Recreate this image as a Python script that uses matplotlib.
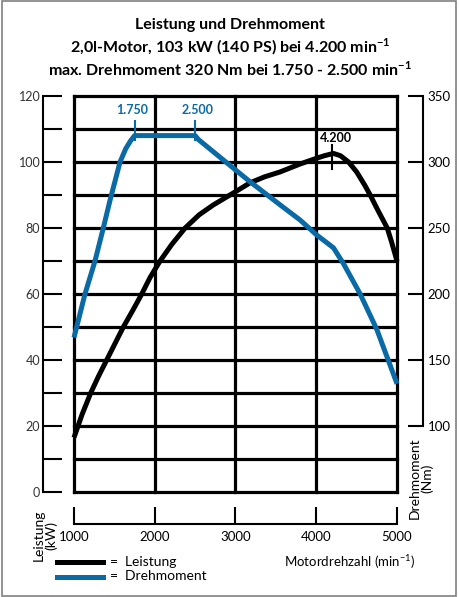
import numpy as np
import matplotlib.pyplot as plt
from matplotlib.lines import Line2D
from matplotlib.patches import Rectangle

plt.rcParams['font.family'] = ['Lato', 'DejaVu Sans']
plt.rcParams['mathtext.fontset'] = 'custom'
plt.rcParams['mathtext.rm'] = 'Lato'
plt.rcParams['mathtext.bf'] = 'Lato:bold'

# Leistung (kW) over Motordrehzahl
p_rpm = [1000, 1100, 1207, 1302, 1405, 1508, 1611, 1727, 1839, 1942, 2066, 2210, 2376, 2550, 2726,
         3000, 3181, 3360, 3553, 3800, 4000, 4100, 4213, 4300, 4400, 4500, 4600, 4668, 4750,
         4879, 4930, 5000]
p_kw = [16.5, 23.5, 30, 35, 40, 45, 50, 55, 60, 65, 70, 75, 80, 84, 87,
        91, 93.7, 95.5, 97, 99.4, 101.1, 101.9, 102.6, 101.9, 100, 97, 93, 90, 86,
        80, 76, 70]

# Drehmoment (Nm) over Motordrehzahl
t_rpm = [1000, 1136, 1260, 1363, 1446, 1570, 1640, 1700, 1750, 2500, 2541, 3000, 3181, 3553, 3801,
         4000, 4213, 4337, 4544, 4751, 5000]
t_nm = [167, 200, 225, 250, 271, 300, 310, 316, 320, 320, 317, 294, 285, 267.5, 256,
        245, 235, 223, 200, 173, 132]

x_ticks = [1000, 2000, 3000, 4000, 5000]
kw_ticks = list(range(0, 121, 10))
nm_ticks = [100, 150, 200, 250, 300, 350]

blue = '#0a6aa6'

fig = plt.figure(figsize=(4.6, 5.97), dpi=100)
ax = fig.add_axes([74/460, 1-492/597, 323/460, 396/597])
ax.set_xlim(1000, 5000)
ax.set_ylim(0, 120)

# grid box
for v in kw_ticks:
    ax.axhline(v, color='k', lw=2.3, clip_on=False, zorder=1, solid_capstyle='projecting')
for v in x_ticks:
    ax.axvline(v, color='k', lw=2.3, clip_on=False, zorder=1, solid_capstyle='projecting')

ax.spines['top'].set_visible(False)
ax.spines['right'].set_visible(False)
ax.spines['left'].set_position(('outward', 22.3))
ax.spines['left'].set_bounds(0, 120)
ax.spines['bottom'].set_position(('outward', 23))
ax.spines['bottom'].set_bounds(1000, 5000)
for s in ['left', 'bottom']:
    ax.spines[s].set_linewidth(1.5)

ax.set_yticks(kw_ticks)
ax.set_yticklabels([str(v) if v % 20 == 0 else '' for v in kw_ticks])
ax.set_xticks(x_ticks)
ax.set_xticklabels([str(v) for v in x_ticks])
ax.tick_params(axis='y', direction='in', length=13.7, width=1.5, pad=2, labelsize=9, labelcolor='#333')
ax.tick_params(axis='x', direction='in', length=12, width=1.5, pad=5, labelsize=9.5)

ax2 = ax.twinx()
ax2.set_ylim(50, 350)
for s in ['left', 'top', 'bottom']:
    ax2.spines[s].set_visible(False)
ax2.spines['right'].set_position(('outward', 18.7))
ax2.spines['right'].set_bounds(100, 350)
ax2.spines['right'].set_linewidth(1.5)
ax2.set_yticks(nm_ticks)
ax2.tick_params(axis='y', direction='in', length=10.8, width=1.5, pad=3.5, labelsize=9.5)

ax.plot(p_rpm, p_kw, color='k', lw=3.6, solid_joinstyle='round', solid_capstyle='butt', zorder=3, clip_on=False)
ax2.plot(t_rpm, t_nm, color=blue, lw=3.6, solid_joinstyle='round', solid_capstyle='butt', zorder=3, clip_on=False)

# markers
ax2.plot([1750, 1750], [317, 331], color=blue, lw=1.5)
ax2.plot([2500, 2500], [317, 331], color=blue, lw=1.5)
ax2.text(1720, 339.5, '1.750', color=blue, fontsize=9, fontweight='bold', ha='center', va='center')
ax2.text(2530, 339.5, '2.500', color=blue, fontsize=9, fontweight='bold', ha='center', va='center')
ax.plot([4200, 4200], [97.8, 105.2], color='k', lw=1.5, zorder=4)
ax.text(4250, 107.3, '4.200', color='k', fontsize=9, fontweight='bold', ha='center', va='center')

# titles
fig.text(0.5, 1-25/597, 'Leistung und Drehmoment', ha='center', va='center', fontsize=11.5, fontweight='bold')
fig.text(0.5, 1-47/597, r'2,0l-Motor, 103 kW (140 PS) bei 4.200 min$^{\mathbf{-1}}$', ha='center', va='center', fontsize=11.5, fontweight='bold')
fig.text(0.5, 1-69/597, r'max. Drehmoment 320 Nm bei 1.750 - 2.500 min$^{\mathbf{-1}}$', ha='center', va='center', fontsize=11.5, fontweight='bold')

# axis titles
fig.text(45/460, 1-535/597, 'Leistung\n(kW)', rotation=90, ha='center', va='center', fontsize=10, multialignment='center', linespacing=1.0)
fig.text(421/460, 1-478/597, 'Drehmoment\n(Nm)', rotation=90, ha='center', va='center', fontsize=10, multialignment='center', linespacing=1.0)
fig.text(415/460, 1-562/597, r'Motordrehzahl (min$^{-1}$)', ha='right', va='center', fontsize=9.5)

# legend
fig.add_artist(Line2D([57/460, 103/460], [1-561.5/597]*2, color='k', lw=3.6, transform=fig.transFigure))
fig.add_artist(Line2D([57/460, 103/460], [1-576.5/597]*2, color=blue, lw=3.6, transform=fig.transFigure))
fig.text(110/460, 1-561.5/597, '=  Leistung', ha='left', va='center', fontsize=10)
fig.text(110/460, 1-576.5/597, '=  Drehmoment', ha='left', va='center', fontsize=10)

fig.add_artist(Rectangle((2.5/460, 1/597), 454/460, 595/597, transform=fig.transFigure, fill=False, ec='#808080', lw=1.2))

fig.savefig('out.png', dpi=100)
